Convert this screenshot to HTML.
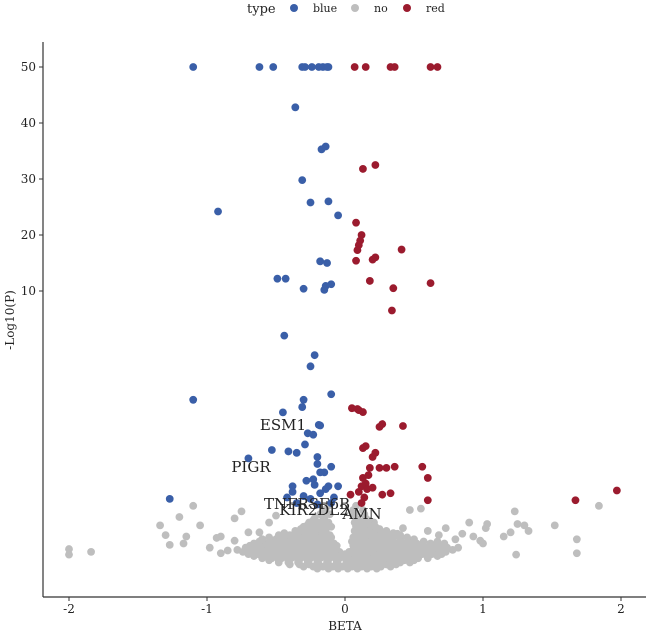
<!DOCTYPE html>
<html><head><meta charset="utf-8">
<style>
body{margin:0;background:#fff}
svg text{font-family:"DejaVu Serif","Liberation Serif",serif;fill:#222}
</style></head>
<body>
<svg id="chart" width="650" height="635" viewBox="0 0 650 635" xmlns="http://www.w3.org/2000/svg">
<g id="legend">
<text x="247" y="13" font-size="13">type</text>
<circle cx="294" cy="8" r="4" fill="#3a5fa8"/>
<text x="313" y="12" font-size="11">blue</text>
<circle cx="355" cy="8" r="4" fill="#bebebe"/>
<text x="374" y="12" font-size="11">no</text>
<circle cx="407" cy="8" r="4" fill="#9b1b2e"/>
<text x="426" y="12" font-size="11">red</text>
</g>
<g id="points"></g>
<g id="labels">
<text x="283" y="430" font-size="15" text-anchor="middle">ESM1</text>
<text x="251" y="472" font-size="15" text-anchor="middle">PIGR</text>
<text x="307" y="509" font-size="15" text-anchor="middle">TNFRSF6B</text>
<text x="314" y="515" font-size="15" text-anchor="middle">KIR2DL2</text>
<text x="362" y="519" font-size="15" text-anchor="middle">AMN</text>
</g>
<g id="axes">
<line x1="43" y1="42" x2="43" y2="597" stroke="#333" stroke-width="1.2"/>
<line x1="43" y1="597" x2="646" y2="597" stroke="#333" stroke-width="1.2"/>
<text x="345" y="630" font-size="12" text-anchor="middle">BETA</text>
<text x="14" y="320" font-size="12" text-anchor="middle" transform="rotate(-90 14 320)">-Log10(P)</text>
</g>
</svg>
<script>
const xTicks=[-2,-1,0,1,2];
const yTicks=[10,20,30,40,50];
const blueBeta=[-1.1,-0.62,-0.52,-0.31,-0.29,-0.24,-0.19,-0.16,-0.13,-0.12,-0.36,-0.14,-0.17,-0.31,-0.92,-0.25,-0.12,-0.05,-0.18,-0.13,-0.49,-0.43,-0.1,-0.14,-0.15,-0.3,-0.22,-0.1,-0.44,-0.25,-1.1,-0.3,-0.31,-0.45,-0.19,-0.18,-0.27,-0.23,-0.53,-0.7,-0.29,-0.41,-0.35,-0.2,-0.2,-0.15,-0.1,-0.18,-0.23,-0.38,-0.28,-0.22,-0.12,-0.05,-0.38,-0.42,-0.3,-0.18,-0.14,-0.08,-0.25,-1.27,-0.35,-0.1,-0.2];
const blueP=[50,50,50,50,50,50,50,50,50,50,42.8,35.8,35.3,29.8,24.2,25.8,26,23.5,15.3,15,12.2,12.2,11.2,10.9,10.2,10.4,7.7,6.3,8.4,7.3,6.1,6.1,5.84,5.65,5.2,5.18,4.9,4.85,4.3,4.0,4.5,4.25,4.2,4.05,3.8,3.5,3.7,3.5,3.25,3.0,3.2,3.05,3.0,3.0,2.8,2.6,2.65,2.75,2.9,2.6,2.55,2.55,2.4,2.4,2.35];
const redBeta=[0.07,0.15,0.33,0.36,0.62,0.67,0.22,0.13,0.08,0.12,0.11,0.1,0.09,0.41,0.22,0.2,0.08,0.18,0.35,0.62,0.34,0.05,0.1,0.13,0.09,0.27,0.25,0.42,0.13,0.15,0.22,0.2,0.56,0.18,0.25,0.3,0.36,0.6,0.13,0.15,0.17,0.12,0.16,0.1,0.2,0.27,0.33,0.04,0.6,1.67,1.97,0.14,0.12];
const redP=[50,50,50,50,50,50,32.5,31.8,22.2,20,19,18.2,17.3,17.4,16,15.6,15.4,11.8,10.5,11.4,9.3,5.8,5.73,5.66,5.77,5.23,5.13,5.16,4.37,4.44,4.2,4.05,3.7,3.66,3.66,3.66,3.7,3.3,3.3,3.1,3.4,3.0,2.9,2.8,2.95,2.7,2.75,2.7,2.5,2.5,2.85,2.6,2.4];
const greyRowP=[0.05,0.2,0.35,0.5,0.65,0.8,0.95,1.1,1.25,1.4,1.55,1.7,1.85,2.0,2.15,2.3,
0.12,0.27,0.42,0.57,0.72,0.87,1.02,1.17,1.32,1.47,1.62,1.78];
const greyRowBeta=[
[-0.2,-0.12,-0.05,0.02,0.09,0.16,0.23],
[-0.4,-0.33,-0.26,-0.19,-0.12,-0.05,0.02,0.09,0.16,0.23,0.3,0.37],
[-0.55,-0.48,-0.41,-0.34,-0.27,-0.2,-0.13,-0.06,0.01,0.08,0.15,0.22,0.29,0.36,0.43,0.5],
[-0.66,-0.59,-0.52,-0.45,-0.38,-0.31,-0.24,-0.17,-0.1,-0.03,0.04,0.11,0.18,0.25,0.32,0.39,0.46,0.53,0.6,0.67],
[-0.74,-0.67,-0.6,-0.53,-0.46,-0.39,-0.32,-0.25,-0.18,-0.11,-0.04,0.03,0.1,0.17,0.24,0.31,0.38,0.45,0.52,0.59,0.66,0.73],
[-0.72,-0.65,-0.58,-0.51,-0.44,-0.37,-0.3,-0.23,-0.16,-0.09,0.1,0.17,0.24,0.31,0.38,0.45,0.52,0.59,0.66,0.74,0.82],
[-0.66,-0.58,-0.5,-0.43,-0.36,-0.29,-0.22,-0.15,-0.08,0.08,0.15,0.22,0.29,0.36,0.44,0.52,0.62,0.72],
[-0.6,-0.5,-0.42,-0.34,-0.27,-0.2,-0.13,0.1,0.17,0.24,0.31,0.4,0.5],
[-0.48,-0.4,-0.32,-0.25,-0.18,-0.11,0.08,0.15,0.22,0.3,0.4],
[-0.36,-0.28,-0.21,-0.14,0.07,0.14,0.21,0.3],
[-0.3,-0.23,-0.16,-0.1,0.08,0.15,0.22],
[-0.26,-0.19,-0.12,0.07,0.14,0.21],
[-0.22,-0.15,0.08,0.15],
[-0.18,-0.11,0.07,0.14],
[-0.15,0.06,0.13],
[-0.12,0.08],
[-0.3,-0.23,-0.16,-0.09,-0.02,0.05,0.12,0.19,0.26,0.33],
[-0.48,-0.41,-0.34,-0.27,-0.2,-0.13,-0.06,0.01,0.05,0.12,0.19,0.26,0.33,0.4,0.47],
[-0.6,-0.53,-0.46,-0.39,-0.32,-0.25,-0.18,-0.11,-0.04,0.04,0.11,0.18,0.25,0.32,0.39,0.46,0.53,0.6],
[-0.7,-0.63,-0.56,-0.49,-0.42,-0.35,-0.28,-0.21,-0.14,-0.07,0.0,0.07,0.14,0.21,0.28,0.35,0.42,0.49,0.56,0.63,0.7],
[-0.78,-0.7,-0.63,-0.56,-0.49,-0.42,-0.35,-0.28,-0.21,-0.14,-0.07,0.06,0.13,0.2,0.27,0.34,0.41,0.48,0.55,0.62,0.69,0.78],
[-0.69,-0.62,-0.55,-0.48,-0.41,-0.34,-0.27,-0.2,-0.13,-0.06,0.06,0.13,0.2,0.27,0.34,0.41,0.48,0.55,0.63,0.7],
[-0.62,-0.54,-0.47,-0.4,-0.33,-0.26,-0.19,-0.12,0.05,0.12,0.19,0.26,0.33,0.4,0.48,0.57,0.67],
[-0.55,-0.46,-0.38,-0.31,-0.24,-0.17,-0.1,0.06,0.13,0.2,0.27,0.35,0.45],
[-0.44,-0.36,-0.29,-0.22,-0.15,0.1,0.18,0.26,0.35],
[-0.32,-0.25,-0.18,0.1,0.17,0.25],
[-0.27,-0.2,-0.13,0.11,0.18],
[-0.23,-0.16,0.1,0.17]];
const greyBeta=[-2,-2,-1.84,-1.3,-1.27,-1.15,-1.1,-1.05,-1.2,-1.34,-1.17,-0.93,-0.9,-0.9,-0.85,-0.8,-0.75,-0.8,-0.7,-0.6,-0.55,-0.5,1.23,1.84,1.68,1.68,1.52,1.33,1.3,1.25,1.24,1.15,1.2,1.02,1.03,1.0,0.9,0.93,0.98,0.85,0.8,0.73,0.55,0.47,0.42,0.38,0.68,0.6,-0.98,-0.62];
const greyP=[0.55,0.75,0.65,1.25,0.9,1.2,2.3,1.6,1.9,1.6,0.95,1.15,1.2,0.6,0.7,1.85,2.1,1.05,1.35,1.1,1.7,1.95,2.1,2.3,1.1,0.6,1.6,1.4,1.6,1.65,0.55,1.2,1.35,1.5,1.65,0.95,1.7,1.2,1.05,1.3,1.1,1.5,2.2,2.15,1.5,1.3,1.25,1.4,0.8,1.35];

function xScale(b){return 345+b*138;}
function yScale(p){return p>=10 ? 291-(p-10)*5.6 : 570-p*27.9;}
const NS='http://www.w3.org/2000/svg';
const pts=document.getElementById('points');
const axes=document.getElementById('axes');
function dot(b,p,col,name){
  const c=document.createElementNS(NS,'circle');
  c.setAttribute('cx',xScale(b));c.setAttribute('cy',yScale(p));
  c.setAttribute('r',3.9);c.setAttribute('fill',col);
  
  
  pts.appendChild(c);
}
greyRowP.forEach((p,i)=>greyRowBeta[i].forEach(b=>dot(b,p,'#bebebe','point-no')));
greyBeta.forEach((b,i)=>dot(b,greyP[i],'#bebebe','point-no'));
blueBeta.forEach((b,i)=>dot(b,blueP[i],'#3a5fa8','point-blue'));
redBeta.forEach((b,i)=>dot(b,redP[i],'#9b1b2e','point-red'));
xTicks.forEach(t=>{
  const x=xScale(t);
  const l=document.createElementNS(NS,'line');
  l.setAttribute('x1',x);l.setAttribute('x2',x);l.setAttribute('y1',597);l.setAttribute('y2',601);l.setAttribute('stroke','#333');
  
  
  axes.appendChild(l);
  const tx=document.createElementNS(NS,'text');
  tx.setAttribute('x',x);tx.setAttribute('y',613);tx.setAttribute('font-size','12');tx.setAttribute('text-anchor','middle');
  tx.textContent=t;
  
  
  axes.appendChild(tx);
});
yTicks.forEach(t=>{
  const y=yScale(t);
  const l=document.createElementNS(NS,'line');
  l.setAttribute('x1',39);l.setAttribute('x2',43);l.setAttribute('y1',y);l.setAttribute('y2',y);l.setAttribute('stroke','#333');
  
  
  axes.appendChild(l);
  const tx=document.createElementNS(NS,'text');
  tx.setAttribute('x',36);tx.setAttribute('y',y+4);tx.setAttribute('font-size','12');tx.setAttribute('text-anchor','end');
  tx.textContent=t;
  
  
  axes.appendChild(tx);
});
</script>
</body></html>
